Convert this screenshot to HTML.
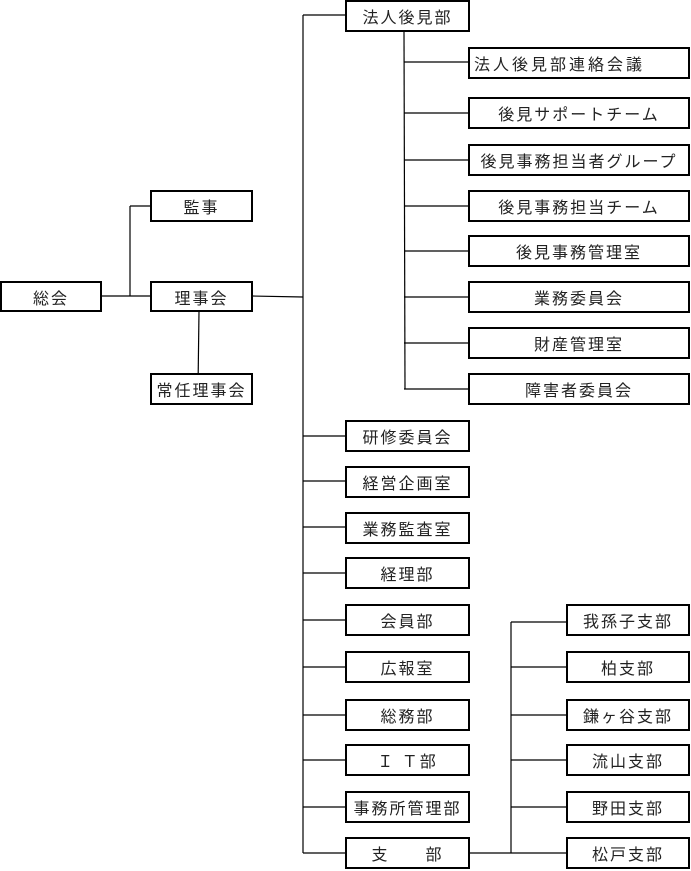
<!DOCTYPE html>
<html><head><meta charset="utf-8"><style>
body{margin:0;width:691px;height:871px;background:#fff;position:relative;overflow:hidden;font-family:"Liberation Sans","Noto Sans CJK JP",sans-serif;}
.b{position:absolute;box-sizing:border-box;border:2px solid #000;background:#fff;font-size:16px;letter-spacing:2px;color:#222;display:flex;align-items:center;justify-content:center;white-space:nowrap;}
svg{position:absolute;left:0;top:0;}
</style></head><body>
<svg width="691" height="871" stroke="#000" stroke-width="1.2" fill="none">
<line x1="101" y1="296" x2="150" y2="296"/>
<line x1="130" y1="206" x2="130" y2="296"/>
<line x1="130" y1="206" x2="150" y2="206"/>
<line x1="199" y1="311" x2="198" y2="389"/>
<line x1="252" y1="296" x2="303" y2="297"/>
<line x1="303" y1="15" x2="303" y2="853"/>
<line x1="303" y1="15" x2="345" y2="15"/>
<line x1="404" y1="31" x2="405" y2="389"/>
<line x1="404" y1="62" x2="468" y2="62"/>
<line x1="404" y1="113" x2="468" y2="113"/>
<line x1="404" y1="160" x2="468" y2="160"/>
<line x1="404" y1="206" x2="468" y2="206"/>
<line x1="404" y1="251" x2="468" y2="251"/>
<line x1="404" y1="297" x2="468" y2="297"/>
<line x1="404" y1="343" x2="468" y2="343"/>
<line x1="404" y1="389" x2="468" y2="389"/>
<line x1="303" y1="436" x2="345" y2="436"/>
<line x1="303" y1="481" x2="345" y2="481"/>
<line x1="303" y1="527" x2="345" y2="527"/>
<line x1="303" y1="573" x2="345" y2="573"/>
<line x1="303" y1="620" x2="345" y2="620"/>
<line x1="303" y1="667" x2="345" y2="667"/>
<line x1="303" y1="715" x2="345" y2="715"/>
<line x1="303" y1="760" x2="345" y2="760"/>
<line x1="303" y1="807" x2="345" y2="807"/>
<line x1="303" y1="853" x2="345" y2="853"/>
<line x1="469" y1="853" x2="566" y2="853"/>
<line x1="511" y1="622" x2="511" y2="853"/>
<line x1="511" y1="622" x2="566" y2="622"/>
<line x1="511" y1="667" x2="566" y2="667"/>
<line x1="511" y1="715" x2="566" y2="715"/>
<line x1="511" y1="760" x2="566" y2="760"/>
<line x1="511" y1="807" x2="566" y2="807"/>
</svg>
<div class="b" style="left:0;top:281;left:0px;top:281px;width:102px;height:31px">総会</div>
<div class="b" style="left:150px;top:190px;width:103px;height:32px">監事</div>
<div class="b" style="left:150px;top:281px;width:103px;height:31px">理事会</div>
<div class="b" style="left:150px;top:373px;width:103px;height:32px">常任理事会</div>
<div class="b" style="left:345px;top:0px;width:125px;height:32px">法人後見部</div>
<div class="b" style="left:468px;top:47px;width:222px;height:32px;justify-content:flex-start;padding-left:4px;letter-spacing:3px">法人後見部連絡会議</div>
<div class="b" style="left:468px;top:97px;width:222px;height:32px">後見サポートチーム</div>
<div class="b" style="left:468px;top:144px;width:222px;height:32px">後見事務担当者グループ</div>
<div class="b" style="left:468px;top:190px;width:222px;height:32px">後見事務担当チーム</div>
<div class="b" style="left:468px;top:235px;width:222px;height:32px">後見事務管理室</div>
<div class="b" style="left:468px;top:281px;width:222px;height:32px">業務委員会</div>
<div class="b" style="left:468px;top:327px;width:222px;height:32px">財産管理室</div>
<div class="b" style="left:468px;top:373px;width:222px;height:32px">障害者委員会</div>
<div class="b" style="left:345px;top:420px;width:125px;height:32px">研修委員会</div>
<div class="b" style="left:345px;top:466px;width:125px;height:32px">経営企画室</div>
<div class="b" style="left:345px;top:512px;width:125px;height:32px">業務監査室</div>
<div class="b" style="left:345px;top:557px;width:125px;height:32px">経理部</div>
<div class="b" style="left:345px;top:604px;width:125px;height:32px">会員部</div>
<div class="b" style="left:345px;top:651px;width:125px;height:32px">広報室</div>
<div class="b" style="left:345px;top:699px;width:125px;height:32px">総務部</div>
<div class="b" style="left:345px;top:744px;width:125px;height:32px">Ｉ Ｔ部</div>
<div class="b" style="left:345px;top:791px;width:125px;height:32px">事務所管理部</div>
<div class="b" style="left:345px;top:837px;width:125px;height:32px">支　　部</div>
<div class="b" style="left:566px;top:604px;width:124px;height:32px">我孫子支部</div>
<div class="b" style="left:566px;top:651px;width:124px;height:32px">柏支部</div>
<div class="b" style="left:566px;top:699px;width:124px;height:32px">鎌ヶ谷支部</div>
<div class="b" style="left:566px;top:744px;width:124px;height:32px">流山支部</div>
<div class="b" style="left:566px;top:791px;width:124px;height:32px">野田支部</div>
<div class="b" style="left:566px;top:837px;width:124px;height:32px">松戸支部</div>
</body></html>
